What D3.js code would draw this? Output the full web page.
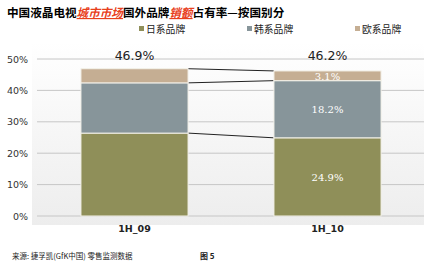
<!DOCTYPE html>
<meta charset="utf-8">
<style>
  body { margin: 0; background: #fff; }
  svg { display: block; font-family: "DejaVu Sans", Verdana, sans-serif; }
</style>
<svg width="430" height="269"></svg>
<script src="https://cdnjs.cloudflare.com/ajax/libs/d3/7.8.5/d3.min.js"></script>
<script>
  // data
  var periods = ['1H_09', '1H_10']
  var seriesNames = ['日系品牌', '韩系品牌', '欧系品牌']
  var japan = [26.4, 24.9]
  var korea = [16.0, 18.2]
  var europe = [4.5, 3.1]
  var totals = [46.9, 46.2]
  var yTicks = [0, 10, 20, 30, 40, 50]
  var colors = ['#8f8f59', '#87959a', '#c5ae93']
  // only the second bar has its segments labelled
  var showInside = [false, true]

  var svg = d3.select('svg')

  var x = d3.scaleBand()
    .domain(periods)
    .range([38, 424])
    .paddingInner(0.445)
    .paddingOuter(0.2225)

  var y = d3.scaleLinear()
    .domain([0, 50])
    .range([216, 59])

  // plot background with faint gradient
  var defs = svg.append('defs')
  var grad = defs.append('linearGradient')
    .attr('id', 'bg')
    .attr('x1', 0).attr('y1', 0).attr('x2', 0).attr('y2', 1)
  grad.append('stop').attr('offset', '0%').attr('stop-color', '#ffffff')
  grad.append('stop').attr('offset', '100%').attr('stop-color', '#ededed')

  svg.append('rect')
    .attr('x', 32).attr('y', 42)
    .attr('width', 392).attr('height', 183)
    .attr('fill', 'url(#bg)')

  // title
  var title = svg.append('text')
    .attr('x', 7).attr('y', 17)
    .attr('font-family', '"Noto Sans CJK SC", sans-serif')
    .attr('font-size', 11.6)
    .attr('font-weight', 'bold')
  title.append('tspan').text('中国液晶电视')
  title.append('tspan').text('城市市场')
    .attr('fill', '#e8401c').attr('font-style', 'italic').attr('text-decoration', 'underline')
  title.append('tspan').text('国外品牌')
  title.append('tspan').text('销额')
    .attr('fill', '#e8401c').attr('font-style', 'italic').attr('text-decoration', 'underline')
  title.append('tspan').text('占有率—按国别分')

  // legend
  var legendX = [139, 247, 355]
  var legend = svg.append('g').selectAll('g')
    .data(seriesNames)
    .enter().append('g')
    .attr('transform', (d, i) => 'translate(' + legendX[i] + ',29)')
  legend.append('rect')
    .attr('x', 0).attr('y', -3)
    .attr('width', 5).attr('height', 5)
    .attr('fill', (d, i) => colors[i])
  legend.append('text')
    .attr('x', 7).attr('y', 3.5)
    .attr('font-family', '"Noto Sans CJK SC", sans-serif')
    .attr('font-size', 9.8)
    .attr('fill', '#222')
    .text(d => d)

  // gridlines
  svg.append('g').selectAll('line')
    .data(yTicks)
    .enter().append('line')
    .attr('x1', 37).attr('x2', 424)
    .attr('y1', d => y(d)).attr('y2', d => y(d))
    .attr('stroke', '#c6c6c6')
    .attr('stroke-width', 1)

  // y axis labels
  svg.append('g').selectAll('text')
    .data(yTicks)
    .enter().append('text')
    .attr('x', 28)
    .attr('y', d => y(d) + 3.5)
    .attr('text-anchor', 'end')
    .attr('font-size', 9.5)
    .attr('fill', '#333')
    .text(d => d + '%')

  // stack
  var rows = periods.map((p, i) => ({ period: p, j: japan[i], k: korea[i], e: europe[i] }))
  var stack = d3.stack().keys(['j', 'k', 'e'])(rows)
  var bw = x.bandwidth()

  // series lines between bars
  svg.append('g').selectAll('line')
    .data(stack)
    .enter().append('line')
    .attr('x1', x(periods[0]) + bw)
    .attr('x2', x(periods[1]))
    .attr('y1', s => y(s[0][1]))
    .attr('y2', s => y(s[1][1]))
    .attr('stroke', '#222')
    .attr('stroke-width', 1)

  // bars
  var layers = svg.append('g').selectAll('g')
    .data(stack)
    .enter().append('g')
    .attr('fill', (s, i) => colors[i])
  layers.selectAll('rect')
    .data(s => s)
    .enter().append('rect')
    .attr('x', d => x(d.data.period))
    .attr('width', bw)
    .attr('y', d => y(d[1]))
    .attr('height', d => y(d[0]) - y(d[1]))
    .attr('stroke', '#f4f2ea')
    .attr('stroke-width', 1)

  // segment labels
  stack.forEach(s => {
    s.forEach((d, i) => {
      if (!showInside[i]) return
      svg.append('text')
        .attr('x', x(d.data.period) + bw / 2)
        .attr('y', y((d[0] + d[1]) / 2) + 4)
        .attr('text-anchor', 'middle')
        .attr('font-family', '"DejaVu Serif", serif')
        .attr('font-size', 10)
        .attr('fill', '#fff')
        .text((d[1] - d[0]).toFixed(1) + '%')
    })
  })

  // totals
  svg.append('g').selectAll('text')
    .data(periods)
    .enter().append('text')
    .attr('x', d => x(d) + bw / 2)
    .attr('y', 60)
    .attr('text-anchor', 'middle')
    .attr('font-size', 12.5)
    .attr('fill', '#222')
    .text((d, i) => totals[i].toFixed(1) + '%')

  // category labels
  svg.append('g').selectAll('text')
    .data(periods)
    .enter().append('text')
    .attr('x', d => x(d) + bw / 2)
    .attr('y', 232)
    .attr('text-anchor', 'middle')
    .attr('font-size', 9.5)
    .attr('font-weight', 'bold')
    .attr('fill', '#222')
    .text(d => d)

  // footer
  svg.append('text')
    .attr('x', 12).attr('y', 259)
    .attr('font-family', '"Noto Sans CJK SC", sans-serif')
    .attr('font-size', 7.5)
    .attr('fill', '#222')
    .text('来源: 捷孚凯(GfK中国) 零售监测数据')
  svg.append('text')
    .attr('x', 200).attr('y', 259)
    .attr('font-family', '"Noto Sans CJK SC", sans-serif')
    .attr('font-size', 8)
    .attr('font-weight', 'bold')
    .attr('fill', '#222')
    .text('图 5')
</script>
